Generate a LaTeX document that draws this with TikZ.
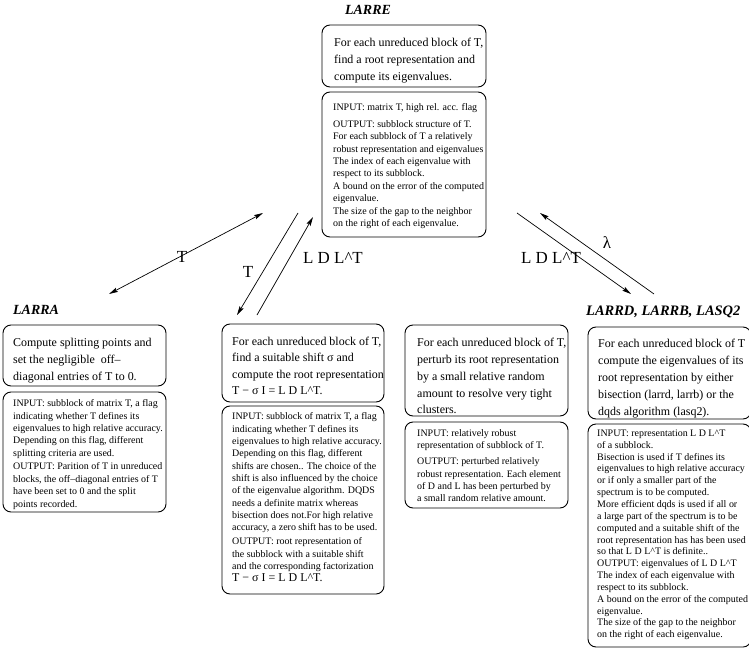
\documentclass[tikz,border=0pt]{standalone}
\usepackage{fontspec}
\setmainfont{Liberation Serif}
\usetikzlibrary{arrows.meta}
\begin{document}
\begin{tikzpicture}[x=1bp,y=-1bp,
  box/.style={draw, rounded corners=8bp, line width=0.9bp, inner sep=0pt, outer sep=0pt, anchor=north west},
  big/.style={inner sep=0pt, anchor=north west, align=left, font=\fontsize{12}{17.5}\selectfont},
  small/.style={inner sep=0pt, anchor=north west, align=left, font=\fontsize{10}{12.4}\selectfont},
  ttl/.style={inner sep=0pt, font=\fontsize{14}{16}\selectfont\bfseries\itshape},
  lab/.style={inner sep=0pt, font=\fontsize{17}{19}\selectfont},
  arr/.style={line width=0.7bp, -{Stealth[length=9bp,width=4.5bp,inset=1.5bp]}},
  darr/.style={line width=0.7bp, {Stealth[length=9bp,width=4.5bp,inset=1.5bp]}-{Stealth[length=9bp,width=4.5bp,inset=1.5bp]}}
]
\useasboundingbox (0,0) rectangle (749,658);
\newcommand{\bigfs}{\fontsize{12}{17.5}\selectfont}

% ---------- LARRE ----------
\node[ttl] (tLARRE) at (368,10) {LARRE};
\node[box, minimum width=164bp, minimum height=62bp] (eTop) at (322,25) {};
\node[big] (eTopT) at (334,37.5) {For each unreduced block of T,\\find a root representation and\\compute its eigenvalues.};
\node[box, minimum width=164bp, minimum height=145bp] (eBot) at (322,92) {};
\node[small] (eBotT) at (333,103.5) {INPUT: matrix T, high rel. acc. flag\\[4.5bp]
OUTPUT: subblock structure of T.\\
For each subblock of T a relatively\\
robust representation and eigenvalues\\
The index of each eigenvalue with\\
respect to its subblock.\\
A bound on the error of the computed\\
eigenvalue.\\
The size of the gap to the neighbor\\
on the right of each eigenvalue.};

% ---------- LARRA ----------
\node[ttl, anchor=west] (tLARRA) at (13,310) {LARRA};
\node[box, minimum width=163bp, minimum height=61bp] (aTop) at (3,325) {};
\node[big] (aTopT) at (13,337.6) {Compute splitting points and\\set the negligible \ off--\\diagonal entries of T to 0.};
\node[box, minimum width=163bp, minimum height=120bp] (aBot) at (3,392) {};
\node[small] (aBotT) at (13,399.5) {INPUT: subblock of matrix T, a flag\\
indicating whether T defines its\\
eigenvalues to high relative accuracy.\\
Depending on this flag, different\\
splitting criteria are used.\\[1.5bp]
OUTPUT: Parition of T in unreduced\\
blocks, the off--diagonal entries of T\\
have been set to 0 and the split\\
points recorded.};

% ---------- shift box ----------
\node[box, minimum width=162bp, minimum height=78bp] (sTop) at (222,324) {};
\node[big, font=\fontsize{12}{16.5}\selectfont] (sTopT) at (232,336.6) {For each unreduced block of T,\\find a suitable shift σ and\\compute the root representation\\T − σ I = L D L\^{}T.};
\node[box, minimum width=162bp, minimum height=188bp] (sBot) at (222,406) {};
\node[small] (sBotT) at (232,412.5) {INPUT: subblock of matrix T, a flag\\
indicating whether T defines its\\
eigenvalues to high relative accuracy.\\
Depending on this flag, different\\
shifts are chosen.. The choice of the\\
shift is also influenced by the choice\\
of the eigenvalue algorithm. DQDS\\
needs a definite matrix whereas\\
bisection does not.For high relative\\
accuracy, a zero shift has to be used.\\[1.5bp]
OUTPUT: root representation of\\
the subblock with a suitable shift\\
and the corresponding factorization\\
{\bigfs T − σ I = L D L\^{}T.}};

% ---------- perturb box ----------
\node[box, minimum width=163bp, minimum height=91bp] (pTop) at (405,325) {};
\node[big, font=\fontsize{12}{17}\selectfont] (pTopT) at (417,337.6) {For each unreduced block of T,\\perturb its root representation\\by a small relative random\\amount to resolve very tight\\clusters.};
\node[box, minimum width=163bp, minimum height=86bp] (pBot) at (405,422) {};
\node[small] (pBotT) at (417,429.5) {INPUT: relatively robust\\
representation of subblock of T.\\[3.5bp]
OUTPUT: perturbed relatively\\
robust representation. Each element\\
of D and L has been perturbed by\\
a small random relative amount.};

% ---------- LARRD, LARRB, LASQ2 ----------
\node[ttl, anchor=west, font=\fontsize{14.5}{16}\selectfont\bfseries\itshape] (tLARRD) at (586,312) {LARRD, LARRB, LASQ2};
\node[box, minimum width=163bp, minimum height=92bp] (rTop) at (588,327) {};
\node[big, font=\fontsize{12}{17.2}\selectfont] (rTopT) at (598,338.6) {For each unreduced block of T\\compute the eigenvalues of its\\root representation by either\\bisection (larrd, larrb) or the\\dqds algorithm (lasq2).};
\node[box, minimum width=163bp, minimum height=223bp] (rBot) at (588,424) {};
\node[small, font=\fontsize{10}{11.9}\selectfont] (rBotT) at (597,429.5) {INPUT: representation L D L\^{}T\\
of a subblock.\\
Bisection is used if T defines its\\
eigenvalues to high relative accuracy\\
or if only a smaller part of the\\
spectrum is to be computed.\\
More efficient dqds is used if all or\\
a large part of the spectrum is to be\\
computed and a suitable shift of the\\
root representation has has been used\\
so that L D L\^{}T is definite..\\
OUTPUT: eigenvalues of L D L\^{}T\\
The index of each eigenvalue with\\
respect to its subblock.\\
A bound on the error of the computed\\
eigenvalue.\\
The size of the gap to the neighbor\\
on the right of each eigenvalue.};

% ---------- connectors ----------
\coordinate (c1a) at (109,294);
\coordinate (c1b) at (263,213);
\coordinate (c2a) at (298,213);
\coordinate (c2b) at (237,315);
\coordinate (c3a) at (257,315);
\coordinate (c3b) at (313,217);
\coordinate (c4a) at (517,213);
\coordinate (c4b) at (631,294);
\coordinate (c5a) at (654,294);
\coordinate (c5b) at (540,213);
\draw[darr] (c1a) -- (c1b);
\draw[arr] (c2a) -- (c2b);
\draw[arr] (c3a) -- (c3b);
\draw[arr] (c4a) -- (c4b);
\draw[arr] (c5a) -- (c5b);

\node[lab] (l1) at (182,257) {T};
\node[lab] (l2) at (248,272) {T};
\node[lab] (l3) at (333,258) {L D L\^{}T};
\node[lab] (l4) at (551,258) {L D L\^{}T};
\node[lab] (l5) at (607,243) {λ};
\end{tikzpicture}
\end{document}
